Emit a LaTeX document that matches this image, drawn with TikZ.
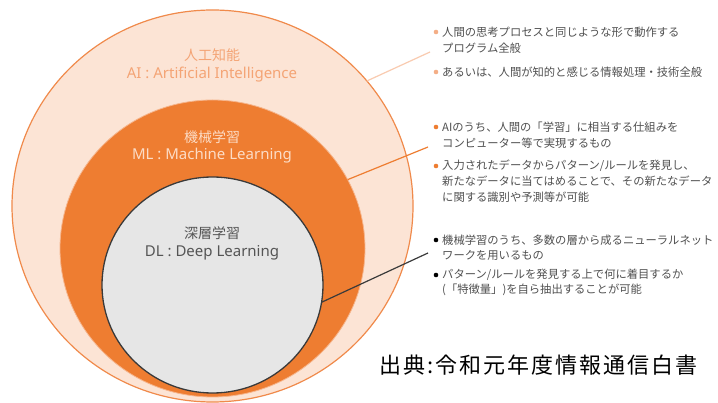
\documentclass[tikz,border=0pt]{standalone}
\usepackage{fontspec}
\setmainfont{Noto Sans CJK JP}
\newfontfamily\latinfont{Noto Sans}
\newfontfamily\srcfont[LetterSpace=9]{Noto Sans CJK JP}
\usetikzlibrary{shapes.geometric}
\definecolor{aiFill}{HTML}{FCE4D5}
\definecolor{aiLine}{HTML}{F08A4B}
\definecolor{mlFill}{HTML}{EE7D31}
\definecolor{mlEdge}{HTML}{F6B58C}
\definecolor{dlFill}{HTML}{E6E6E6}
\definecolor{dlLine}{HTML}{3A3A3A}
\definecolor{aiTxt}{HTML}{F4A475}
\definecolor{mlTxt}{HTML}{FCDCC6}
\definecolor{dlTxt}{HTML}{555555}
\definecolor{lineA}{HTML}{F9CBB0}
\definecolor{bulA}{HTML}{F4AE86}
\definecolor{bodyTxt}{HTML}{505050}
\tikzset{
  ring/.style={ellipse, inner sep=0pt, outer sep=0pt},
  jpTitle/.style={inner sep=0pt, font=\fontsize{14}{14}\selectfont},
  enTitle/.style={inner sep=0pt, font=\latinfont\fontsize{15}{15}\selectfont},
  bodyline/.style={anchor=west, inner sep=0pt, text=bodyTxt, font=\fontsize{11.3}{11.3}\selectfont},
  dot/.style={circle, inner sep=0pt, minimum size=4.6pt},
}
\begin{document}
\begin{tikzpicture}[x=1pt,y=-1pt]
\useasboundingbox (0,0) rectangle (718,403);
\fill[white] (0,0) rectangle (718,403);
% rings
\node[ring, minimum width=401pt, minimum height=392pt, fill=aiFill, draw=aiLine, line width=1.2pt] (ai) at (212.5,206) {};
\node[ring, minimum width=305pt, minimum height=297pt, fill=mlFill, draw=mlEdge, line width=0.8pt] (ml) at (212.5,248.5) {};
\node[ring, minimum width=221pt, minimum height=216pt, fill=dlFill, draw=dlLine, line width=1.3pt] (dl) at (212.5,285) {};
% titles
\node[jpTitle, text=aiTxt] (aiJ) at (212,55) {人工知能};
\node[enTitle, text=aiTxt] (aiE) at (212,75) {AI : Artificial Intelligence};
\node[jpTitle, text=mlTxt] (mlJ) at (212,137) {機械学習};
\node[enTitle, text=mlTxt] (mlE) at (212,156) {ML : Machine Learning};
\node[jpTitle, text=dlTxt] (dlJ) at (212,233) {深層学習};
\node[enTitle, text=dlTxt] (dlE) at (212,253) {DL : Deep Learning};
% connector end points
\coordinate (eA) at (430,52);
\coordinate (eM) at (428,147);
\coordinate (eD) at (428,253);
\draw[lineA, line width=1.2pt] (ai.39) -- (eA);
\draw[mlFill, line width=1.2pt] (ml.27) -- (eM);
\draw[dlLine, line width=1.2pt] (dl.-9) -- (eD);
% block AI
\node[dot, fill=bulA] (dA1) at (436,32) {};
\node[bodyline] (tA1) at (442,32) {人間の思考プロセスと同じような形で動作する};
\node[bodyline] (tA2) at (442,48) {プログラム全般};
\node[dot, fill=bulA] (dA2) at (436,72) {};
\node[bodyline] (tA3) at (442,72) {あるいは、人間が知的と感じる情報処理・技術全般};
% block ML
\node[dot, fill=mlFill] (dM1) at (436,127) {};
\node[bodyline] (tM1) at (442,127) {AIのうち、人間の「学習」に相当する仕組みを};
\node[bodyline] (tM2) at (442,143) {コンピューター等で実現するもの};
\node[dot, fill=mlFill] (dM2) at (436,166) {};
\node[bodyline] (tM3) at (442,166) {入力されたデータからパターン/ルールを発見し、};
\node[bodyline] (tM4) at (442,181) {新たなデータに当てはめることで、その新たなデータ};
\node[bodyline] (tM5) at (442,197) {に関する識別や予測等が可能};
% block DL
\node[dot, fill=black] (dD1) at (436,240) {};
\node[bodyline] (tD1) at (442,240) {機械学習のうち、多数の層から成るニューラルネット};
\node[bodyline] (tD2) at (442,255) {ワークを用いるもの};
\node[dot, fill=black] (dD2) at (436,275) {};
\node[bodyline] (tD3) at (442,275) {パターン/ルールを発見する上で何に着目するか};
\node[bodyline] (tD4) at (442,290) {(「特徴量」)を自ら抽出することが可能};
% source
\node[anchor=west, inner sep=0pt, font=\srcfont\fontsize{22}{22}\selectfont] (src) at (379,365) {出典:令和元年度情報通信白書};
\end{tikzpicture}
\end{document}
